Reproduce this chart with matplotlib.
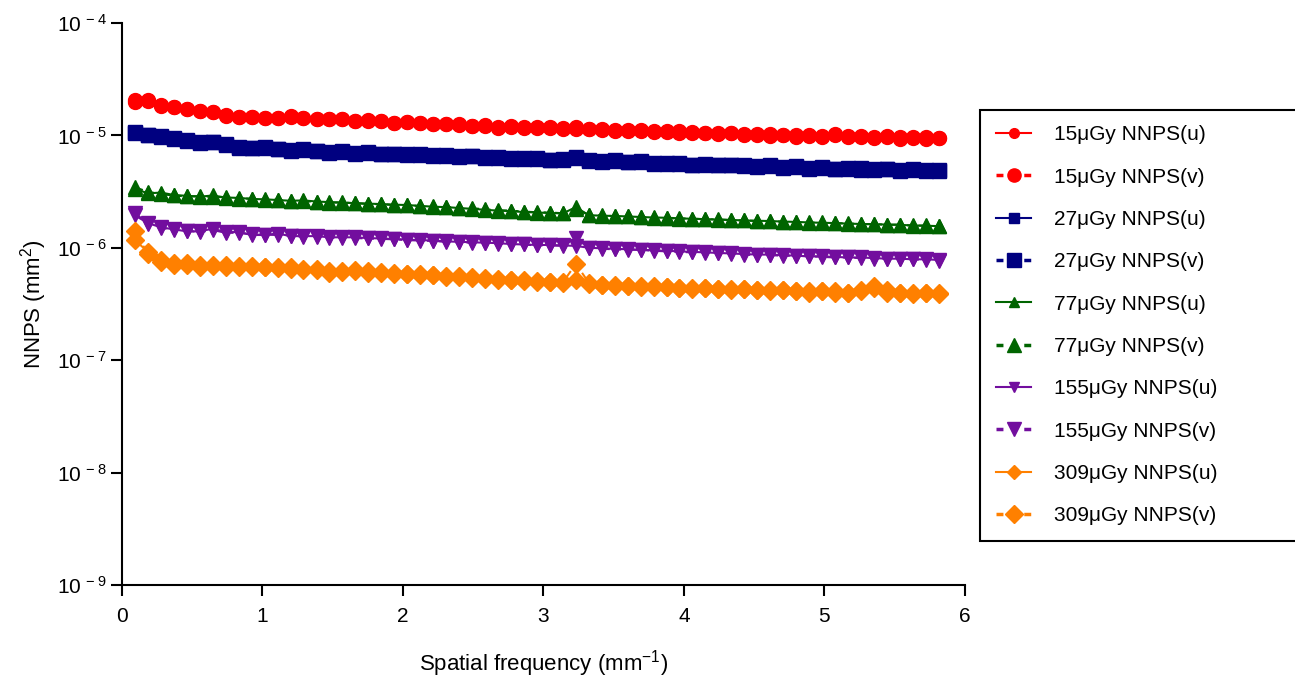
import numpy as np
import matplotlib
matplotlib.use("Agg")
import matplotlib.pyplot as plt
from matplotlib.lines import Line2D
from matplotlib.ticker import FixedLocator, FuncFormatter

plt.rcParams['font.family'] = ['Liberation Sans', 'DejaVu Sans']
plt.rcParams['mathtext.fontset'] = 'custom'
plt.rcParams['mathtext.rm'] = 'Liberation Sans'

# spatial frequency (mm^-1)
freq = [0.092, 0.185, 0.277, 0.369, 0.462, 0.554, 0.646, 0.738, 0.831, 0.923,
        1.015, 1.108, 1.200, 1.292, 1.385, 1.477, 1.569, 1.661, 1.754, 1.846,
        1.938, 2.031, 2.123, 2.215, 2.308, 2.400, 2.492, 2.584, 2.677, 2.769,
        2.861, 2.954, 3.046, 3.138, 3.231, 3.323, 3.415, 3.507, 3.600, 3.692,
        3.784, 3.877, 3.969, 4.061, 4.154, 4.246, 4.338, 4.430, 4.523, 4.615,
        4.707, 4.800, 4.892, 4.984, 5.077, 5.169, 5.261, 5.353, 5.446, 5.538,
        5.630, 5.723, 5.815]

# NNPS values, 15 uGy (x1e-6)
nnps15_u = [20.7, 20.6, 18.4, 18.0, 17.2, 16.5, 16.2, 15.0, 14.6, 14.6, 14.4, 14.3, 14.7, 14.3, 14.0, 14.0, 14.0, 13.4,
            13.6, 13.3, 13.0, 13.2, 12.8, 12.6, 12.7, 12.4, 12.2, 12.3, 11.9,
            12.0, 11.8, 11.7, 11.9, 11.6, 11.8, 11.4, 11.3, 11.1, 11.2, 11.0, 10.9, 10.8, 10.9, 10.6, 10.5, 10.6, 10.4, 10.3, 10.1,
            10.2, 10.0, 10.1, 9.9, 9.8, 10.1, 9.8, 9.7, 9.6, 9.7, 9.6, 9.5, 9.6, 9.4]
nnps15_v = [19.9, 20.4, 18.6, 17.8, 17.0, 16.6, 16.0, 15.1, 14.5, 14.7, 14.3, 14.4, 15.0, 14.2, 14.1, 13.9, 14.1, 13.3,
            13.5, 13.4, 12.9, 13.1, 12.9, 12.5, 12.6, 12.5, 12.1, 12.2, 11.6,
            11.9, 11.7, 11.8, 11.7, 11.3, 11.4, 11.5, 11.2, 10.9, 11.0, 11.1, 10.7, 10.9, 10.6, 10.7, 10.4, 10.3, 10.5, 10.1, 10.2,
            9.9, 10.1, 9.7, 10.0, 9.6, 10.2, 9.6, 9.8, 9.4, 9.8, 9.3, 9.6, 9.2, 9.5]

# 27 uGy (x1e-6)
nnps27_u = [10.5, 10.1, 9.7, 9.3, 9.0, 8.6, 8.8, 8.2, 7.9, 7.7, 7.9, 7.5, 7.4, 7.5, 7.2, 7.1, 7.2, 6.9, 7.1, 6.8, 6.9, 6.7,
            6.8, 6.6, 6.7, 6.5, 6.6, 6.3, 6.4, 6.3, 6.2, 6.3, 6.1, 6.2, 6.3,
            6.0, 5.9, 6.0, 5.8, 5.9, 5.7, 5.6, 5.7, 5.5, 5.6, 5.5, 5.4, 5.5, 5.3,
            5.4, 5.2, 5.3, 5.1, 5.2, 5.0, 5.1, 5.1, 5.0, 5.0, 4.9, 5.0, 4.9, 4.9]
nnps27_v = [10.7, 10.0, 9.8, 9.4, 9.1, 8.7, 8.7, 8.3, 7.8, 7.8, 7.8, 7.6, 7.3, 7.4, 7.3, 7.0, 7.1, 7.0, 7.0, 6.9, 6.8, 6.8,
            6.7, 6.7, 6.6, 6.4, 6.5, 6.4, 6.3, 6.2, 6.3, 6.2, 6.0, 6.1, 6.4,
            5.9, 5.8, 5.9, 5.8, 5.8, 5.6, 5.7, 5.6, 5.4, 5.5, 5.4, 5.5, 5.3, 5.2,
            5.3, 5.1, 5.2, 5.0, 5.1, 5.0, 5.0, 4.9, 4.9, 5.0, 4.8, 4.9, 4.8, 4.8]

# 77 uGy (x1e-6)
nnps77_u = [3.35, 3.05, 3.10, 2.95, 2.90, 2.85, 2.92, 2.80, 2.78, 2.72, 2.70, 2.66, 2.62, 2.64, 2.58, 2.55, 2.52, 2.50, 2.47, 2.45, 2.42, 2.40,
            2.36, 2.32, 2.30, 2.26, 2.22, 2.18, 2.14, 2.12, 2.08, 2.06, 2.04, 2.02, 2.30,
            1.95, 1.93, 1.92, 1.90, 1.88, 1.86, 1.85, 1.83, 1.81, 1.80, 1.78, 1.77, 1.75, 1.74,
            1.73, 1.71, 1.70, 1.68, 1.67, 1.66, 1.64, 1.63, 1.62, 1.61, 1.60, 1.58, 1.57, 1.56]
nnps77_v = [3.45, 3.15, 3.00, 2.92, 2.86, 2.88, 2.84, 2.82, 2.74, 2.74, 2.66, 2.68, 2.60, 2.60, 2.56, 2.52, 2.54, 2.48, 2.46, 2.44, 2.40, 2.41,
            2.34, 2.35, 2.30, 2.27, 2.25, 2.20, 2.16, 2.14, 2.10, 2.07, 2.06, 2.03, 2.20,
            1.97, 1.94, 1.91, 1.91, 1.87, 1.87, 1.84, 1.82, 1.82, 1.79, 1.79, 1.76, 1.75, 1.73,
            1.74, 1.70, 1.71, 1.67, 1.68, 1.65, 1.65, 1.62, 1.63, 1.60, 1.61, 1.57, 1.58, 1.55]

# 155 uGy (x1e-6)
nnps155_u = [1.94, 1.66, 1.52, 1.46, 1.40, 1.40, 1.48, 1.38, 1.38, 1.30, 1.30, 1.34, 1.27, 1.27, 1.27, 1.24, 1.24, 1.24,
             1.22, 1.21, 1.20, 1.18, 1.17, 1.16, 1.14, 1.13, 1.12, 1.11, 1.10, 1.08, 1.07, 1.06, 1.06, 1.05,
             1.04,
             1.00, 0.99, 0.98, 0.97, 0.96, 0.95, 0.94, 0.93, 0.92, 0.91, 0.90, 0.89, 0.88, 0.87,
             0.87, 0.86, 0.85, 0.84, 0.84, 0.83, 0.82, 0.82, 0.81, 0.80, 0.80, 0.79, 0.79, 0.78]
nnps155_v = [2.05, 1.62, 1.50, 1.45, 1.42, 1.38, 1.44, 1.36, 1.36, 1.32, 1.31, 1.30, 1.28, 1.26, 1.26, 1.23, 1.23, 1.22,
             1.21, 1.20, 1.19, 1.17, 1.16, 1.15, 1.13, 1.12, 1.11, 1.10, 1.09, 1.07, 1.07, 1.05, 1.05, 1.04,
             1.22,
             0.99, 0.98, 0.97, 0.96, 0.96, 0.94, 0.93, 0.92, 0.91, 0.90, 0.90, 0.88, 0.87, 0.86,
             0.86, 0.85, 0.85, 0.84, 0.83, 0.82, 0.82, 0.81, 0.80, 0.80, 0.79, 0.79, 0.78, 0.77]

# 309 uGy (x1e-7)
nnps309_u = [11.7, 9.2, 7.8, 7.1, 7.3, 6.8, 6.9, 7.1, 6.9, 6.9, 6.7, 6.7, 6.7, 6.4, 6.5, 6.0, 6.2, 6.4, 6.2,
             6.1, 6.0, 5.9, 5.8, 5.7, 5.6, 5.6, 5.5, 5.4, 5.3, 5.2, 5.2, 5.1, 5.0, 5.0,
             5.2,
             4.8, 4.7, 4.7, 4.6, 4.6, 4.5, 4.5, 4.4, 4.4, 4.4, 4.3, 4.3, 4.3, 4.2,
             4.2, 4.2, 4.1, 4.1, 4.1, 4.1, 4.0, 4.1, 4.6, 4.2, 4.0, 4.0, 4.0, 3.95]
nnps309_v = [14.0, 8.8, 7.5, 7.3, 7.0, 7.0, 7.1, 6.8, 6.8, 6.7, 6.7, 6.6, 6.5, 6.5, 6.3, 6.2, 6.1, 6.2, 6.0,
             6.0, 5.9, 5.8, 5.7, 5.7, 5.5, 5.5, 5.4, 5.3, 5.2, 5.2, 5.1, 5.0, 5.0, 4.9,
             7.2,
             4.9, 4.7, 4.6, 4.6, 4.5, 4.6, 4.5, 4.4, 4.3, 4.4, 4.3, 4.2, 4.3, 4.2,
             4.1, 4.2, 4.1, 4.0, 4.1, 4.0, 4.0, 4.2, 4.4, 4.0, 4.0, 3.9, 4.0, 3.9]

doses = ['15', '27', '77', '155', '309']
colors = ['#ff0000', '#000080', '#006400', '#720e9e', '#ff8000']
markers = ['o', 's', '^', 'v', 'D']
scales = [1e-6, 1e-6, 1e-6, 1e-6, 1e-7]


def main():
    fig = plt.figure(figsize=(12.95, 6.82), dpi=100)
    ax = fig.add_axes([0.0942, 0.1422, 0.6508, 0.8241])

    series_u = [nnps15_u, nnps27_u, nnps77_u, nnps155_u, nnps309_u]
    series_v = [nnps15_v, nnps27_v, nnps77_v, nnps155_v, nnps309_v]
    x = np.array(freq)
    dash = (0, (4, 4, 1.5, 4))

    handles = []
    for i in range(5):
        c = colors[i]
        m = markers[i]
        yu = np.array(series_u[i]) * scales[i]
        yv = np.array(series_v[i]) * scales[i]
        ms = 10 if m != 'D' else 9
        ax.plot(x, yv, color=c, marker=m, ms=ms, mec=c, lw=1.5, ls=dash, zorder=3 + i)
        if i < 2:
            ax.plot(x, yv, ls='none', marker='_', ms=4, mew=1.2, color='white', zorder=3 + i)
        ax.plot(x, yu, color=c, marker=m, ms=ms, mec=c, lw=1.5, ls='-', zorder=3.5 + i)

        lab = doses[i] + 'μGy NNPS'
        handles.append(Line2D([], [], color=c, marker=m, ms=7, lw=1.5, ls='-', label=lab + '(u)'))
        handles.append(Line2D([], [], color=c, marker=m, ms=9.5, lw=2.5, ls=(0, (2, 2.5, 1, 2.5)), label=lab + '(v)'))

    ax.set_yscale('log')
    ax.set_ylim(1e-9, 1e-4)
    ax.set_xlim(0, 6)
    ax.yaxis.set_major_locator(FixedLocator([1e-9, 1e-8, 1e-7, 1e-6, 1e-5, 1e-4]))
    ax.yaxis.set_minor_locator(FixedLocator([]))
    ax.yaxis.set_major_formatter(FuncFormatter(lambda v, p: r'$\mathregular{10^{\,%d}}$' % round(np.log10(v))))
    ax.set_xticks([0, 1, 2, 3, 4, 5, 6])

    for s in ['top', 'right']:
        ax.spines[s].set_visible(False)
    for s in ['left', 'bottom']:
        ax.spines[s].set_linewidth(1.5)
    ax.tick_params(direction='out', length=8, width=1.5, labelsize=15)
    ax.tick_params(axis='x', pad=8)
    ax.tick_params(axis='y', pad=3)

    ax.set_xlabel(r'Spatial frequency (mm$^{\mathregular{-1}}$)', fontsize=16, labelpad=16)
    ax.set_ylabel(r'NNPS (mm$^{\mathregular{2}}$)', fontsize=16, labelpad=6)

    leg = fig.legend(handles=handles, loc='upper left', mode='expand',
                     bbox_to_anchor=(0.757, 0.839, 0.25, 0.0), fontsize=15,
                     frameon=True, fancybox=False, edgecolor='black', framealpha=1,
                     handlelength=1.7, handletextpad=1.1, labelspacing=1.12,
                     borderpad=0.75, borderaxespad=0)
    leg.get_frame().set_linewidth(1.5)

    fig.savefig('out.png', dpi=100)


if __name__ == "__main__":
    main()
